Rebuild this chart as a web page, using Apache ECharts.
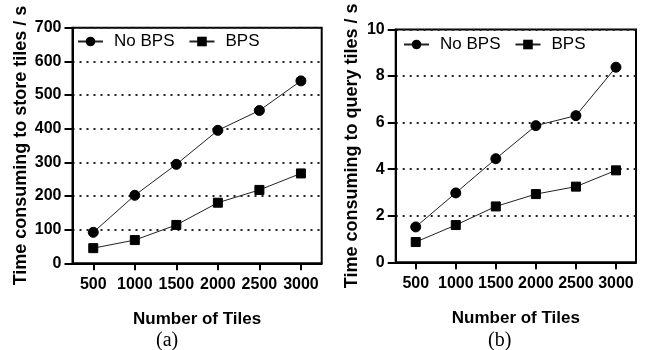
<!DOCTYPE html>
<html>
<head>
<meta charset="utf-8">
<script src="https://cdn.jsdelivr.net/npm/echarts@6/dist/echarts.min.js"></script>
<style>
html,body{margin:0;padding:0;background:#fff;}
#chart{width:647px;height:350px;}
</style>
</head>
<body>
<div id="chart"></div>
<script>
const categories = ['500', '1000', '1500', '2000', '2500', '3000'];
const seriesNames = ['No BPS', 'BPS'];
const storeNoBPS = [92, 202, 294, 395, 454, 542];
const storeBPS = [45, 69, 114, 180, 218, 267];
const queryNoBPS = [1.52, 2.98, 4.45, 5.87, 6.3, 8.38];
const queryBPS = [0.87, 1.6, 2.4, 2.93, 3.25, 3.95];
const storeAxis = { min: 0, max: 700, interval: 100 };
const queryAxis = { min: 0, max: 10, interval: 2 };
const xTitle = 'Number of Tiles';
const yTitles = ['Time consuming to store tiles / s', 'Time consuming to query tiles / s'];
const panelLabels = ['(a)', '(b)'];

const FONT = 'Liberation Sans, Arial, sans-serif';
const chart = echarts.init(document.getElementById('chart'), null, { renderer: 'canvas' });

function xAxisCfg(gridIndex) {
  return {
    type: 'category', gridIndex: gridIndex, data: categories, boundaryGap: true,
    name: xTitle, nameLocation: 'middle', nameGap: 48,
    nameTextStyle: { fontFamily: FONT, fontWeight: 'bold', fontSize: 17, color: '#000' },
    axisLine: { show: true, lineStyle: { color: '#000', width: 2 } },
    axisTick: { show: true, alignWithLabel: true, interval: 0, length: 7, lineStyle: { color: '#000', width: 2 } },
    axisLabel: { interval: 0, fontFamily: FONT, fontWeight: 'bold', fontSize: 16, color: '#000', margin: 13 },
    splitLine: { show: false }
  };
}
function yAxisCfg(gridIndex, rng, title, gap) {
  return {
    type: 'value', gridIndex: gridIndex, min: rng.min, max: rng.max, interval: rng.interval,
    name: title, nameLocation: 'middle', nameGap: gap,
    nameTextStyle: { fontFamily: FONT, fontWeight: 'bold', fontSize: 18, color: '#000' },
    axisLine: { show: true, lineStyle: { color: '#000', width: 2 } },
    axisTick: { show: true, length: 8, lineStyle: { color: '#000', width: 2 } },
    axisLabel: { fontFamily: FONT, fontWeight: 'bold', fontSize: 16, color: '#000', margin: 11 },
    splitLine: { show: true, lineStyle: { color: '#222', width: 2, type: [2, 5] } }
  };
}
function lineSeries(name, data, idx, symbol, size) {
  return {
    type: 'line', name: name, data: data, xAxisIndex: idx, yAxisIndex: idx,
    symbol: symbol, symbolSize: size, showSymbol: true,
    lineStyle: { color: '#222', width: 1 },
    itemStyle: { color: '#000', borderColor: '#000' },
    emphasis: { disabled: true }, animation: false, z: 5
  };
}
function legendCfg(left, top) {
  return {
    left: left, top: top, padding: 0, itemWidth: 25, itemHeight: 12, itemGap: 14,
    data: seriesNames,
    textStyle: { fontFamily: FONT, fontSize: 17, color: '#000', padding: [0, 0, 0, 6] },
    selectedMode: false
  };
}

chart.setOption({
  backgroundColor: '#fff',
  animation: false,
  grid: [
    { left: 72.5, top: 27.7, width: 249.2, height: 235.6, show: true, borderColor: '#000', borderWidth: 2, backgroundColor: 'transparent' },
    { left: 395.7, top: 29.5, width: 240.3, height: 232.8, show: true, borderColor: '#000', borderWidth: 2, backgroundColor: 'transparent' }
  ],
  legend: [legendCfg(77, 33), legendCfg(403, 36)],
  xAxis: [xAxisCfg(0), xAxisCfg(1)],
  yAxis: [yAxisCfg(0, storeAxis, yTitles[0], 42), yAxisCfg(1, queryAxis, yTitles[1], 35)],
  series: [
    lineSeries(seriesNames[0], storeNoBPS, 0, 'circle', 10),
    lineSeries(seriesNames[1], storeBPS, 0, 'rect', 9),
    lineSeries(seriesNames[0], queryNoBPS, 1, 'circle', 10),
    lineSeries(seriesNames[1], queryBPS, 1, 'rect', 9)
  ],
  graphic: [
    { type: 'text', left: 168 - 12, top: 331, style: { text: panelLabels[0], font: '20px "Liberation Serif", "Times New Roman", serif', fill: '#000' } },
    { type: 'text', left: 500 - 12, top: 331, style: { text: panelLabels[1], font: '20px "Liberation Serif", "Times New Roman", serif', fill: '#000' } }
  ]
});
</script>
</body>
</html>
